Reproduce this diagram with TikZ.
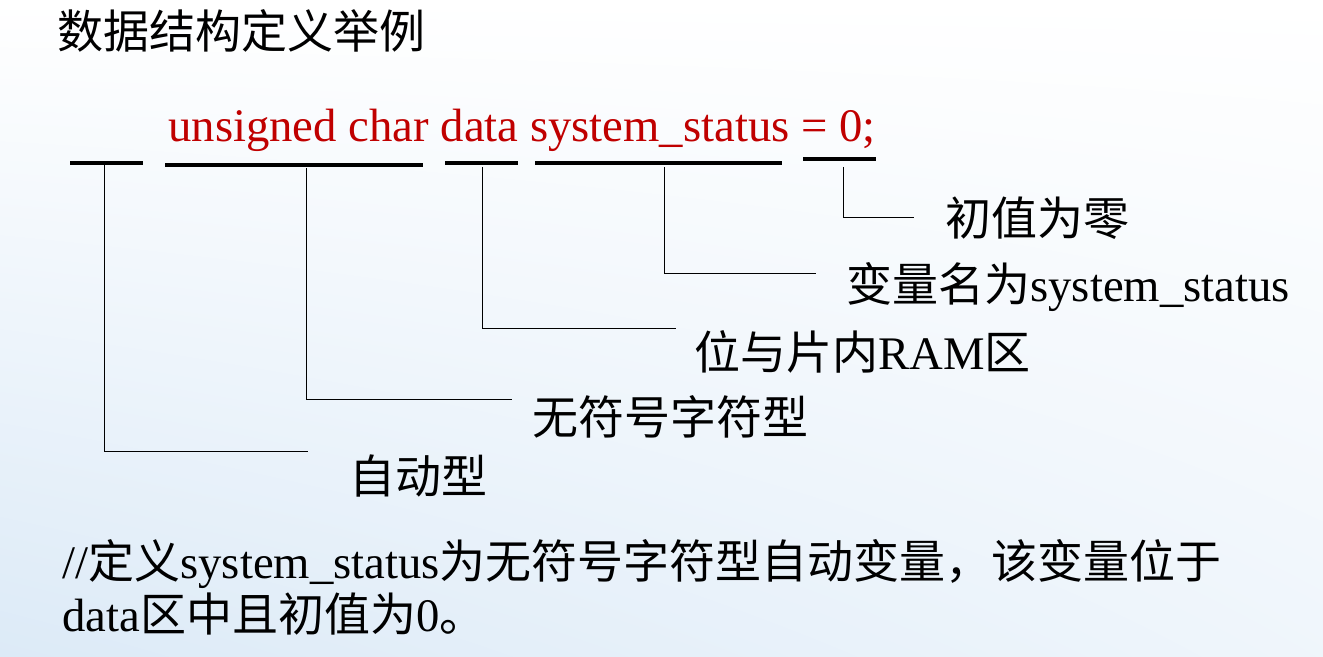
\documentclass[tikz,border=0pt]{standalone}
\usepackage{fontspec}
\setmainfont{Liberation Serif}
\newfontfamily\cjk[Scale=0.985]{Noto Sans CJK SC}
\usepackage{tikz}
\usetikzlibrary{positioning,shadings}
\definecolor{codeRed}{HTML}{C00000}
\definecolor{slideBlue}{HTML}{DCEAF7}

\begin{document}
\begin{tikzpicture}[x=0.5pt,y=-0.5pt,
        every node/.style={inner sep=0pt,font=\fontsize{23.35}{28}\selectfont},
        bar/.style={line width=1.75pt},
        leader/.style={line width=0.5pt}]
    % slide background
    \shade[lower left=slideBlue, upper left=white, lower right=slideBlue!45, upper right=white]
        (0,0) rectangle (1323,657);
    \useasboundingbox (0,0) rectangle (1323,657);

    \node[anchor=west] (title) at (57,31) {\cjk 数据结构定义举例};
    \node[anchor=base west, codeRed] (code) at (168,142) {unsigned char data system\_status = 0;};

    % underlines below the declaration
    \foreach \xa/\xb/\y in {70/143/163, 165/423/165, 445/518/163, 535/782/163, 803/876/159}
        \draw[bar] (\xa,\y) -- (\xb,\y);

    % labels
    \node[anchor=west] (init) at (945,218) {\cjk 初值为零};
    \node[anchor=base west] (vname) at (846,302) {{\cjk 变量名为}system\_status};
    \node[anchor=base west] (ram) at (694,370) {{\cjk 位与片内}RAM{\cjk 区}};
    \node[anchor=west] (uchar) at (532,417) {\cjk 无符号字符型};
    \node[anchor=west] (auto) at (349,476) {\cjk 自动型};

    % leader lines
    \foreach \n/\xa/\ya/\xb/\yb in {init/843/167/914/218, vname/664/167/816/274,
            ram/482/167/676/329, uchar/306/168/512/400, auto/104/163/308/452} {
        \coordinate (\n-top) at (\xa,\ya);
        \coordinate (\n-end) at (\xb,\yb);
        \draw[leader] (\n-top) |- (\n-end);
    }

    \node[anchor=base west] (note1) at (62,578) {//{\cjk 定义}system\_status{\cjk 为无符号字符型自动变量，该变量位于}};
    \node[anchor=base west] (note2) at (62,632) {data{\cjk 区中且初值为}0{\cjk 。}};
\end{tikzpicture}
\end{document}
